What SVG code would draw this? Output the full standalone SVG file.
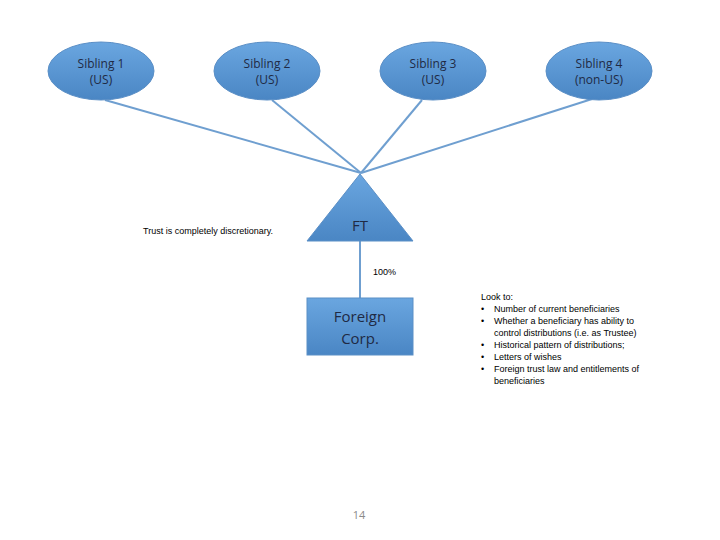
<svg xmlns="http://www.w3.org/2000/svg" width="720" height="540" viewBox="0 0 720 540">
<defs>
<linearGradient id="g" x1="0" y1="0" x2="0" y2="1"><stop offset="0" stop-color="#6aa6e0"/><stop offset="1" stop-color="#4a86c4"/></linearGradient>
<style>
.n{fill:url(#g);stroke:#5b8fc6;stroke-width:1}
.t{font-family:"Open Sans","DejaVu Sans",sans-serif;font-size:12px;fill:#1f2a44;text-anchor:middle}
.s{font-family:"Liberation Sans",Arial,sans-serif;font-size:9px;fill:#000}
.c{stroke:#6f9fd0;stroke-width:2;fill:none}
</style>
</defs>
<rect width="720" height="540" fill="#fff"/>
<g id="connectors">
<line class="c" x1="105" y1="100" x2="361" y2="173"/>
<line class="c" x1="272" y1="100" x2="361" y2="173"/>
<line class="c" x1="422" y1="100" x2="361" y2="173"/>
<line class="c" x1="592" y1="99" x2="361" y2="173"/>
<line class="c" x1="360" y1="241" x2="360" y2="298"/>
</g>
<g id="sibling1"><ellipse class="n" cx="101" cy="71" rx="53" ry="29"/><text class="t" x="101" y="68">Sibling 1</text><text class="t" x="101" y="84">(US)</text></g>
<g id="sibling2"><ellipse class="n" cx="267" cy="71" rx="53" ry="29"/><text class="t" x="267" y="68">Sibling 2</text><text class="t" x="267" y="84">(US)</text></g>
<g id="sibling3"><ellipse class="n" cx="433" cy="71" rx="53" ry="29"/><text class="t" x="433" y="68">Sibling 3</text><text class="t" x="433" y="84">(US)</text></g>
<g id="sibling4"><ellipse class="n" cx="599" cy="71" rx="53" ry="29"/><text class="t" x="599" y="68">Sibling 4</text><text class="t" x="599" y="84">(non-US)</text></g>
<g id="ft"><polygon class="n" points="360,174 413,241 307,241"/><text class="t" x="360" y="231" style="font-size:15px">FT</text></g>
<g id="foreigncorp"><rect class="n" x="307" y="298" width="106" height="57"/><text class="t" x="360" y="322" style="font-size:15px">Foreign</text><text class="t" x="360" y="344" style="font-size:15px">Corp.</text></g>
<text class="s" x="143" y="234">Trust is completely discretionary.</text>
<text class="s" x="373" y="275">100%</text>
<g class="s">
<text x="481" y="300">Look to:</text>
<text x="481" y="312">•</text><text x="494" y="312">Number of current beneficiaries</text>
<text x="481" y="324">•</text><text x="494" y="324">Whether a beneficiary has ability to</text>
<text x="494" y="336">control distributions (i.e. as Trustee)</text>
<text x="481" y="348">•</text><text x="494" y="348">Historical pattern of distributions;</text>
<text x="481" y="360">•</text><text x="494" y="360">Letters of wishes</text>
<text x="481" y="372">•</text><text x="494" y="372">Foreign trust law and entitlements of</text>
<text x="494" y="384">beneficiaries</text>
</g>
<text x="359" y="519" style="font-family:'Open Sans',sans-serif;font-size:11px;fill:#8a8a8a;text-anchor:middle">14</text>
</svg>
